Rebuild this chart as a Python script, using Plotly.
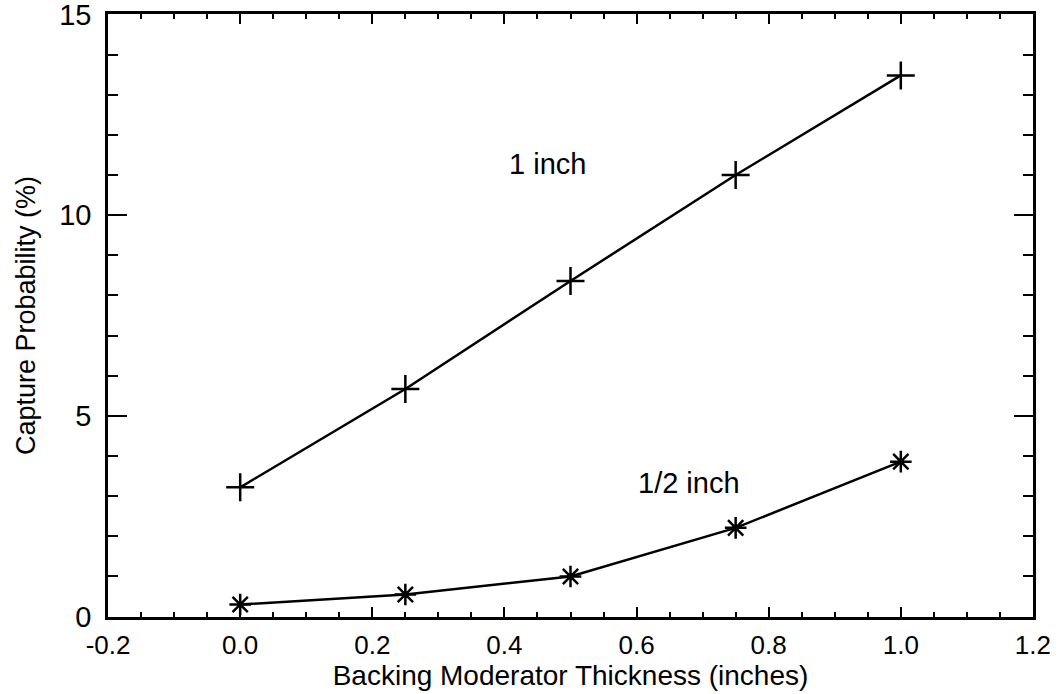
import plotly.graph_objects as go

thickness = [0.0, 0.25, 0.5, 0.75, 1.0]
capture_1inch = [3.22, 5.67, 8.36, 11.0, 13.48]
capture_half_inch = [0.30, 0.55, 1.0, 2.21, 3.86]

x_tick_vals = [-0.2, 0.0, 0.2, 0.4, 0.6, 0.8, 1.0, 1.2]
x_tick_text = ["-0.2", "0.0", "0.2", "0.4", "0.6", "0.8", "1.0", "1.2"]
y_tick_vals = [0, 5, 10, 15]
y_tick_text = ["0", "5", "10", "15"]

FONT = "Liberation Sans, Arial, Helvetica, sans-serif"

fig = go.Figure()
fig.add_trace(go.Scatter(
    x=thickness, y=capture_1inch, mode="lines+markers",
    line=dict(color="black", width=2.5),
    marker=dict(symbol="cross-thin", size=20, color="black",
                line=dict(color="black", width=2.5)),
    showlegend=False, cliponaxis=False))
fig.add_trace(go.Scatter(
    x=thickness, y=capture_half_inch, mode="lines+markers",
    line=dict(color="black", width=2.5),
    marker=dict(symbol="asterisk-open", size=18, color="black",
                line=dict(color="black", width=2.5)),
    showlegend=False, cliponaxis=False))

fig.add_annotation(x=0.465, y=11.27, text="1 inch", showarrow=False,
                   font=dict(family=FONT, size=29, color="black"))
fig.add_annotation(x=0.68, y=3.33, text="1/2 inch", showarrow=False,
                   font=dict(family=FONT, size=29, color="black"))

fig.update_layout(
    width=1060, height=694,
    margin=dict(l=108, r=27, t=14, b=77),
    paper_bgcolor="white", plot_bgcolor="white",
    font=dict(family=FONT, color="black"),
)
fig.update_xaxes(
    range=[-0.2001, 1.2001], tickvals=x_tick_vals, ticktext=x_tick_text,
    showgrid=False, zeroline=False,
    showline=True, linecolor="black", linewidth=2.5, mirror="allticks",
    ticks="inside", ticklen=10, tickwidth=2, tickcolor="black",
    minor=dict(ticks="inside", dtick=0.05, tick0=0, ticklen=5, tickwidth=2,
               tickcolor="black", showgrid=False),
    tickfont=dict(family=FONT, size=26, color="black"),
    ticklabelstandoff=3, ticklabeloverflow="allow",
    title=dict(text="Backing Moderator Thickness (inches)",
               font=dict(family=FONT, size=28, color="black"), standoff=0),
    automargin=False,
)
fig.update_yaxes(
    range=[-0.01, 15.01], tickvals=y_tick_vals, ticktext=y_tick_text,
    showgrid=False, zeroline=False,
    showline=True, linecolor="black", linewidth=2.5, mirror="allticks",
    ticks="inside", ticklen=19, tickwidth=2, tickcolor="black",
    minor=dict(ticks="inside", dtick=1, tick0=0, ticklen=10, tickwidth=2,
               tickcolor="black", showgrid=False),
    tickfont=dict(family=FONT, size=29, color="black"),
    ticklabelstandoff=8, ticklabeloverflow="allow",
    title=dict(text="Capture Probability (%)",
               font=dict(family=FONT, size=27, color="black"), standoff=16),
    automargin=False,
)

fig.write_html("out.html")
